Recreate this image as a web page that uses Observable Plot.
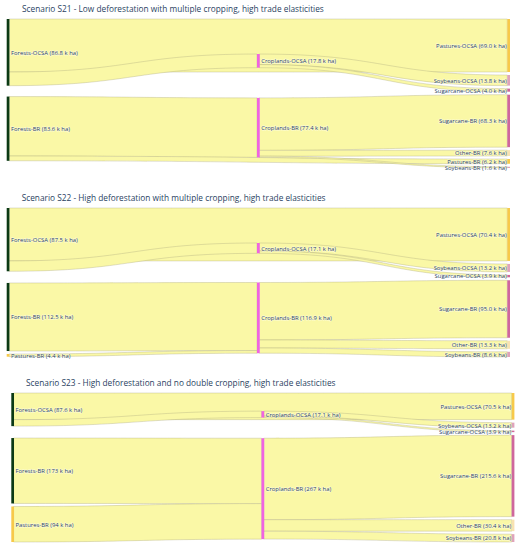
<!DOCTYPE html>
<html><head><meta charset="utf-8">
<script src="https://cdn.jsdelivr.net/npm/d3@7"></script>
<script src="https://cdn.jsdelivr.net/npm/@observablehq/plot@0.6"></script>
<style>
body{margin:0;background:#fff;font-family:"Open Sans",sans-serif;}
#wrap{position:relative;width:520px;height:550px;overflow:hidden;}
.title{position:absolute;font-size:8.3px;line-height:12px;height:12px;color:#2a3f5f;white-space:nowrap;}
.panel{position:absolute;left:0;}
</style></head><body><div id="wrap"></div>
<script>
// ---------- DATA ----------
const titles = [
  "Scenario S21 - Low deforestation with multiple cropping, high trade elasticities",
  "Scenario S22 - High deforestation with multiple cropping, high trade elasticities",
  "Scenario S23 - High deforestation and no double cropping, high trade elasticities"
];

// S21
const s21Nodes   = ["Forests-OCSA","Forests-BR","Croplands-OCSA","Croplands-BR","Pastures-OCSA","Soybeans-OCSA","Sugarcane-OCSA","Sugarcane-BR","Other-BR","Pastures-BR","Soybeans-BR"];
const s21Labels  = ["86.8","83.6","17.8","77.4","69.0","13.8","4.0","68.3","7.6","6.2","1.6"];
const s21Columns = [0,0,1,1,2,2,2,2,2,2,2];
const s21Sources = ["Forests-OCSA","Forests-OCSA","Croplands-OCSA","Croplands-OCSA","Forests-BR","Forests-BR","Croplands-BR","Croplands-BR","Croplands-BR"];
const s21Targets = ["Pastures-OCSA","Croplands-OCSA","Soybeans-OCSA","Sugarcane-OCSA","Croplands-BR","Pastures-BR","Sugarcane-BR","Other-BR","Soybeans-BR"];
const s21Values  = [69.0,17.8,13.8,4.0,77.4,6.2,68.3,7.6,1.6];

// S22
const s22Nodes   = ["Forests-OCSA","Forests-BR","Pastures-BR","Croplands-OCSA","Croplands-BR","Pastures-OCSA","Soybeans-OCSA","Sugarcane-OCSA","Sugarcane-BR","Other-BR","Soybeans-BR"];
const s22Labels  = ["87.5","112.5","4.4","17.1","116.9","70.4","13.2","3.9","95.0","13.3","8.6"];
const s22Columns = [0,0,0,1,1,2,2,2,2,2,2];
const s22Sources = ["Forests-OCSA","Forests-OCSA","Croplands-OCSA","Croplands-OCSA","Forests-BR","Pastures-BR","Croplands-BR","Croplands-BR","Croplands-BR"];
const s22Targets = ["Pastures-OCSA","Croplands-OCSA","Soybeans-OCSA","Sugarcane-OCSA","Croplands-BR","Croplands-BR","Sugarcane-BR","Other-BR","Soybeans-BR"];
const s22Values  = [87.5,17.1,13.2,3.9,112.5,4.4,95.0,13.3,8.6];

// S23
const s23Nodes   = ["Forests-OCSA","Forests-BR","Pastures-BR","Croplands-OCSA","Croplands-BR","Pastures-OCSA","Soybeans-OCSA","Sugarcane-OCSA","Sugarcane-BR","Other-BR","Soybeans-BR"];
const s23Labels  = ["87.6","173","94","17.1","267","70.5","13.2","3.9","215.6","30.4","20.8"];
const s23Columns = [0,0,0,1,1,2,2,2,2,2,2];
const s23Sources = ["Forests-OCSA","Forests-OCSA","Croplands-OCSA","Croplands-OCSA","Forests-BR","Pastures-BR","Croplands-BR","Croplands-BR","Croplands-BR"];
const s23Targets = ["Pastures-OCSA","Croplands-OCSA","Soybeans-OCSA","Sugarcane-OCSA","Croplands-BR","Croplands-BR","Sugarcane-BR","Other-BR","Soybeans-BR"];
const s23Values  = [70.5,17.1,13.2,3.9,173,94,215.6,30.4,20.8];

const categoryNames  = ["Forests","Croplands","Pastures","Soybeans","Sugarcane","Other"];
const categoryColors = ["#0b3a14","#f064e0","#f7c94a","#dfa3bb","#cf679c","#f8e2b2"];

// ---------- STYLE / LAYOUT ----------
const panels = [
  {nodes:s21Nodes, labels:s21Labels, cols:s21Columns, src:s21Sources, tgt:s21Targets, val:s21Values, titleX:22,   titleY:9.3,   nodeTop:19.3,  xl:6.7,  xr:507.3},
  {nodes:s22Nodes, labels:s22Labels, cols:s22Columns, src:s22Sources, tgt:s22Targets, val:s22Values, titleX:21.7, titleY:197.7, nodeTop:207.7, xl:6.7,  xr:507.3},
  {nodes:s23Nodes, labels:s23Labels, cols:s23Columns, src:s23Sources, tgt:s23Targets, val:s23Values, titleX:26,   titleY:383.3, nodeTop:393.3, xl:11.3, xr:511.7}
];
const H = 149, PAD = 3, NODE_W = 2.7, ITER = 50, M = 5;
const linkFill = "#faf8a6";
const colorOf = name => categoryColors[categoryNames.indexOf(name.split("-")[0])];

function layout(names, cols, src, tgt, val) {
  const nodes = names.map((name, i) => ({name, col: cols[i], i, sourceLinks: [], targetLinks: []}));
  const byName = new Map(nodes.map(n => [n.name, n]));
  const links = src.map((s, k) => ({source: byName.get(s), target: byName.get(tgt[k]), value: val[k], k}));
  links.forEach(l => { l.source.sourceLinks.push(l); l.target.targetLinks.push(l); });
  nodes.forEach(n => n.value = Math.max(d3.sum(n.sourceLinks, l => l.value), d3.sum(n.targetLinks, l => l.value)));
  const columns = d3.groups(nodes, n => n.col).sort((a, b) => a[0] - b[0]).map(d => d[1]);
  const ky = d3.min(columns, c => (H - (c.length - 1) * PAD) / d3.sum(c, n => n.value));
  const Hv = H / ky, pv = PAD / ky;
  const center = n => (n.y0 + n.y1) / 2;
  columns.forEach(c => { let y = 0; c.forEach(n => { n.y0 = y; n.y1 = y + n.value; y = n.y1 + pv; }); });
  function resolve() {
    columns.forEach(c => {
      let y = 0, n;
      for (n of c) { const dy = y - n.y0; if (dy > 0) { n.y0 += dy; n.y1 += dy; } y = n.y1 + pv; }
      let dy = y - pv - Hv;
      if (dy > 0) {
        n = c[c.length - 1]; n.y0 -= dy; n.y1 -= dy; y = n.y0;
        for (let i = c.length - 2; i >= 0; --i) { n = c[i]; dy = n.y1 + pv - y; if (dy > 0) { n.y0 -= dy; n.y1 -= dy; } y = n.y0; }
      }
    });
  }
  resolve();
  let alpha = 1;
  for (let it = 0; it < ITER; it++) {
    alpha *= 0.99;
    columns.slice().reverse().forEach(c => c.forEach(n => {
      if (n.sourceLinks.length) {
        const dy = (d3.sum(n.sourceLinks, l => center(l.target) * l.value) / d3.sum(n.sourceLinks, l => l.value) - center(n)) * alpha;
        n.y0 += dy; n.y1 += dy;
      }
    }));
    resolve();
    columns.forEach(c => c.forEach(n => {
      if (n.targetLinks.length) {
        const dy = (d3.sum(n.targetLinks, l => center(l.source) * l.value) / d3.sum(n.targetLinks, l => l.value) - center(n)) * alpha;
        n.y0 += dy; n.y1 += dy;
      }
    }));
    resolve();
  }
  nodes.forEach(n => {
    n.sourceLinks.sort((a, b) => a.target.y0 - b.target.y0);
    n.targetLinks.sort((a, b) => a.source.y0 - b.source.y0);
  });
  nodes.forEach(n => {
    let y = n.y0; n.sourceLinks.forEach(l => { l.sy0 = y; l.sy1 = y + l.value; y += l.value; });
    y = n.y0; n.targetLinks.forEach(l => { l.ty0 = y; l.ty1 = y + l.value; y += l.value; });
  });
  return {nodes, links, Hv};
}

const wrap = document.getElementById("wrap");
panels.forEach((p, pi) => {
  const {nodes, links, Hv} = layout(p.nodes, p.cols, p.src, p.tgt, p.val);
  nodes.forEach((n, i) => n.label = `${n.name} (${p.labels[i]} k ha)`);
  const tU = NODE_W * 2 / (p.xr - p.xl);
  const linkPts = links.flatMap(l => [
    {k: l.k, x: l.source.col + tU, y1: l.sy0, y2: l.sy1},
    {k: l.k, x: l.target.col, y1: l.ty0, y2: l.ty1}
  ]);
  const nodeRows = nodes.map(n => ({...n, x1: n.col, x2: n.col + tU, cy: (n.y0 + n.y1) / 2, color: colorOf(n.name)}));
  const chart = Plot.plot({
    width: 520, height: H + 2 * M, margin: 0,
    style: {fontFamily: "'Open Sans', sans-serif", background: "transparent", overflow: "visible"},
    x: {domain: [0, 2], range: [p.xl, p.xr], axis: null},
    y: {domain: [0, Hv], range: [M, M + H], axis: null},
    color: {type: "identity"},
    marks: [
      Plot.areaY(linkPts, {x: "x", y1: "y1", y2: "y2", z: "k", curve: "bump-x", fill: linkFill, stroke: "#a8a67e", strokeWidth: 0.5, strokeOpacity: 0.7}),
      Plot.rect(nodeRows, {x1: "x1", x2: "x2", y1: "y0", y2: "y1", fill: "color"}),
      Plot.text(nodeRows.filter(n => n.col < 2), {x: "x2", y: "cy", text: "label", textAnchor: "start", dx: 1, fontSize: 5.9, fill: "#2a3f5f", stroke: "white", strokeWidth: 1, strokeOpacity: 0.6, paintOrder: "stroke"}),
      Plot.text(nodeRows.filter(n => n.col === 2), {x: "x1", y: "cy", text: "label", textAnchor: "end", dx: -1, fontSize: 5.9, fill: "#2a3f5f", stroke: "white", strokeWidth: 1, strokeOpacity: 0.6, paintOrder: "stroke"})
    ]
  });
  const t = document.createElement("div");
  t.className = "title";
  t.textContent = titles[pi];
  t.style.left = p.titleX + "px";
  t.style.top = (p.titleY - 6) + "px";
  wrap.appendChild(t);
  const d = document.createElement("div");
  d.className = "panel";
  d.style.top = (p.nodeTop - M) + "px";
  d.appendChild(chart);
  wrap.appendChild(d);
});
</script></body></html>
